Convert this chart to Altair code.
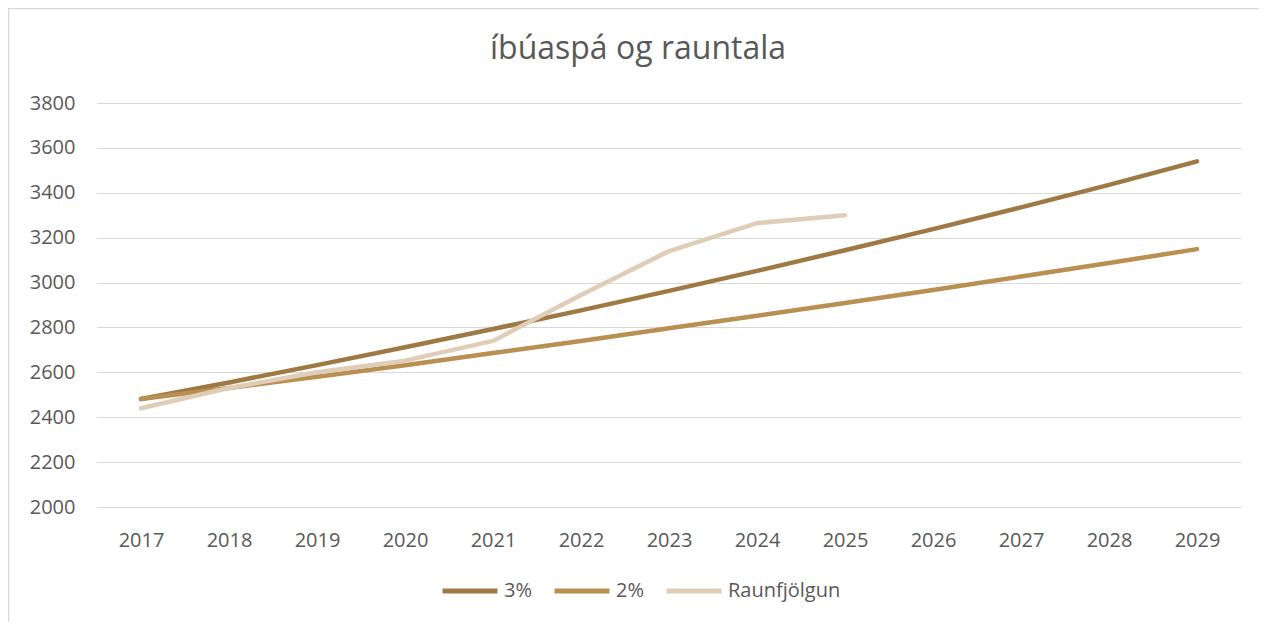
import altair as alt
import pandas as pd

years = [str(y) for y in range(2017, 2030)]
s3 = [2481, 2555, 2632, 2712, 2793, 2876, 2963, 3052, 3144, 3238, 3335, 3435, 3540]
s2 = [2481, 2530, 2580, 2632, 2686, 2740, 2796, 2852, 2909, 2967, 3027, 3087, 3149]
raun_years = years[:9]
raun = [2440, 2530, 2600, 2652, 2740, 2945, 3140, 3265, 3300]

series_names = ["3%", "2%", "Raunfjölgun"]
colors = ["#9E7944", "#BA8F52", "#E0CDB8"]
title_text = "íbúaspá og rauntala"

rows = []
for y, v in zip(years, s3):
    rows.append({"year": y, "value": v, "series": "3%", "order": 0})
for y, v in zip(years, s2):
    rows.append({"year": y, "value": v, "series": "2%", "order": 1})
for y, v in zip(raun_years, raun):
    rows.append({"year": y, "value": v, "series": "Raunfjölgun", "order": 2})
df = pd.DataFrame(rows)

FONT = "Open Sans"
GREY = "#595959"

lines = alt.Chart(df).mark_line(strokeWidth=4.5, strokeCap="round", strokeJoin="round").encode(
    x=alt.X("year:O", sort=years,
            axis=alt.Axis(title=None, labelAngle=0, ticks=False, domain=False, grid=False,
                          labelFont=FONT, labelFontSize=20, labelColor=GREY, labelPadding=23)),
    y=alt.Y("value:Q", scale=alt.Scale(domain=[2000, 3800], nice=False),
            axis=alt.Axis(title=None, values=list(range(2000, 3801, 200)), format="d",
                          ticks=False, domain=False,
                          gridColor="#D9D9D9", gridWidth=1.2,
                          labelFont=FONT, labelFontSize=20, labelColor=GREY, labelPadding=22)),
    color=alt.Color("series:N", sort=series_names,
                    scale=alt.Scale(domain=series_names, range=colors),
                    legend=alt.Legend(title=None, orient="none", direction="horizontal",
                                      legendX=343, legendY=458,
                                      symbolType="stroke", symbolSize=3025, symbolStrokeWidth=5,
                                      labelFont=FONT, labelFontSize=20, labelColor=GREY,
                                      labelOffset=4, columnPadding=12)),
    detail="series:N",
    order="order:Q",
)

single = alt.Chart(pd.DataFrame({"t": [title_text]}))
frame_top = single.mark_rule(color="#D9D9D9", strokeWidth=1.5).encode(
    x=alt.value(-89), x2=alt.value(1162), y=alt.value(-94.5))
frame_left = single.mark_rule(color="#D9D9D9", strokeWidth=1.5).encode(
    x=alt.value(-88.5), y=alt.value(-95), y2=alt.value(524))
title = single.mark_text(font=FONT, fontSize=32, color=GREY, align="center",
                         baseline="alphabetic").encode(
    text="t:N", x=alt.value(541), y=alt.value(-44))

chart = alt.layer(frame_top, frame_left, title, lines).properties(
    width=1144,
    height=404,
    padding={"left": 89, "top": 95, "right": 18, "bottom": 115},
    autosize=alt.AutoSizeParams(type="none"),
).configure(background="white").configure_view(stroke=None)

chart.save("out.html", embed_options={"renderer": "svg", "actions": False})
